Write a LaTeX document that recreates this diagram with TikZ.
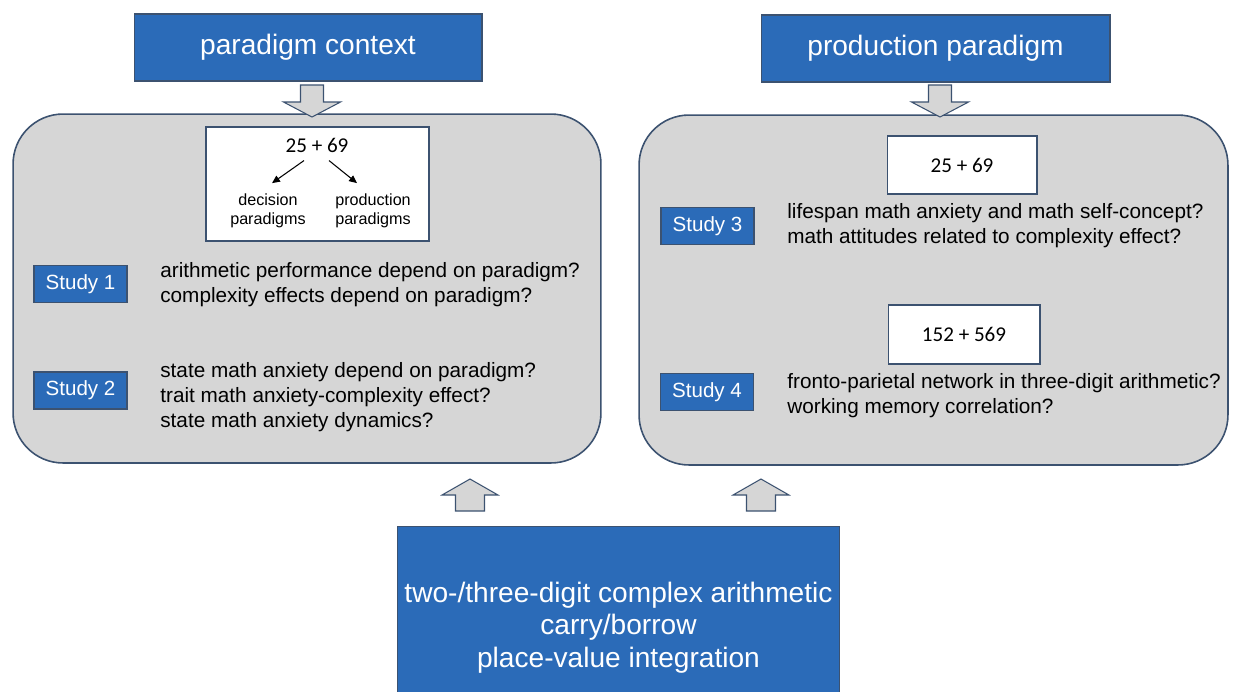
\documentclass[tikz,border=0pt]{standalone}
\usepackage{fontspec}
\setmainfont{Liberation Sans}
\newfontfamily\numfont{Carlito}
\usetikzlibrary{arrows.meta}

\definecolor{studyblue}{HTML}{2B6BB8}
\definecolor{slate}{HTML}{3C5270}
\definecolor{panelgray}{HTML}{D6D6D6}

\tikzset{
  headbox/.style={draw=slate, line width=0.6pt, fill=studyblue, text=white,
    font=\fontsize{16}{18.6}\selectfont, align=center, inner sep=0},
  panel/.style={draw=slate, line width=0.9pt, fill=panelgray, rounded corners=1cm},
  card/.style={draw=slate, line width=0.6pt, fill=white, inner sep=0,
    font=\numfont\fontsize{12}{14}\selectfont},
  sumtext/.style={inner sep=0, font=\numfont\fontsize{12}{14}\selectfont},
  studylabel/.style={draw=slate, line width=0.6pt, fill=studyblue, text=white,
    font=\fontsize{11.7}{14}\selectfont, minimum width=1.86cm, minimum height=0.74cm, inner sep=0},
  question/.style={anchor=west, align=left, inner sep=0, font=\fontsize{11.8}{14.2}\selectfont},
  smalltext/.style={align=center, inner sep=0, font=\fontsize{9.2}{10.8}\selectfont},
  pointer/.style={line width=0.6pt, -{Triangle[length=4.5pt,width=4pt]}},
  blockarrow/.style={draw=slate, line width=0.6pt, fill=panelgray, line join=miter},
  downblock/.pic={\filldraw[blockarrow] (-11.5,0) -- (11.5,0) -- (11.5,17) -- (28.5,17)
    -- (0,32) -- (-28.5,17) -- (-11.5,17) -- cycle;},
  upblock/.pic={\filldraw[blockarrow] (0,0) -- (28,16) -- (14.5,16) -- (14.5,32)
    -- (-14.5,32) -- (-14.5,16) -- (-28,16) -- cycle;}
}

\begin{document}
\begin{tikzpicture}[x=0.02cm, y=-0.02cm]
\useasboundingbox (0,0) rectangle (1233,691);

% headers
\node[headbox, minimum width=6.96cm, minimum height=1.34cm] (ctx) at (308,47.5) {paradigm context};
\node[headbox, minimum width=6.98cm, minimum height=1.34cm] (prod) at (935.5,48.5) {production paradigm};

% the two study panels
\node[panel, minimum width=11.76cm, minimum height=6.98cm] (leftpanel) at (307,288.5) {};
\node[panel, minimum width=11.78cm, minimum height=7cm] (rightpanel) at (933.5,290) {};

% left panel: decision vs production
\node[card, minimum width=4.46cm, minimum height=2.28cm] (ctxcard) at (317.5,184) {};
\node[sumtext] (sum1) at (317,145) {25 + 69};
\node[smalltext] (dec) at (268,210.5) {decision\\paradigms};
\node[smalltext] (prd) at (373,210.5) {production\\paradigms};
\draw[pointer] ([shift={(-13,8)}]sum1.south) -- ([shift={(4,-10)}]dec.north);
\draw[pointer] ([shift={(12,8)}]sum1.south) -- ([shift={(-16,-10)}]prd.north);

\node[studylabel] (s1) at (80.5,284) {Study 1};
\node[question] (q1) at (160,285) {arithmetic performance depend on paradigm?\\complexity effects depend on paradigm?};
\node[studylabel] (s2) at (80.5,390.5) {Study 2};
\node[question] (q2) at (160,397) {state math anxiety depend on paradigm?\\trait math anxiety-complexity effect?\\state math anxiety dynamics?};

% right panel: production only
\node[card, minimum width=3cm, minimum height=1.16cm] (sum2) at (962,165) {25 + 69};
\node[studylabel] (s3) at (707.5,226) {Study 3};
\node[question] (q3) at (787,226) {lifespan math anxiety and math self-concept?\\math attitudes related to complexity effect?};
\node[card, minimum width=3.04cm, minimum height=1.18cm] (sum3) at (964,334.5) {152 + 569};
\node[studylabel] (s4) at (707,392) {Study 4};
\node[question] (q4) at (787,396) {fronto-parietal network in three-digit arithmetic?\\working memory correlation?};

% common basis at the bottom
\node[headbox, minimum width=8.86cm, minimum height=4.06cm] (base) at (618.5,627.5)
  {two-/three-digit complex arithmetic\\carry/borrow\\place-value integration};

% block arrows
\pic at (312,85) {downblock};
\pic at (940,85) {downblock};
\pic at (470,479) {upblock};
\pic at (761,479) {upblock};
\end{tikzpicture}
\end{document}
